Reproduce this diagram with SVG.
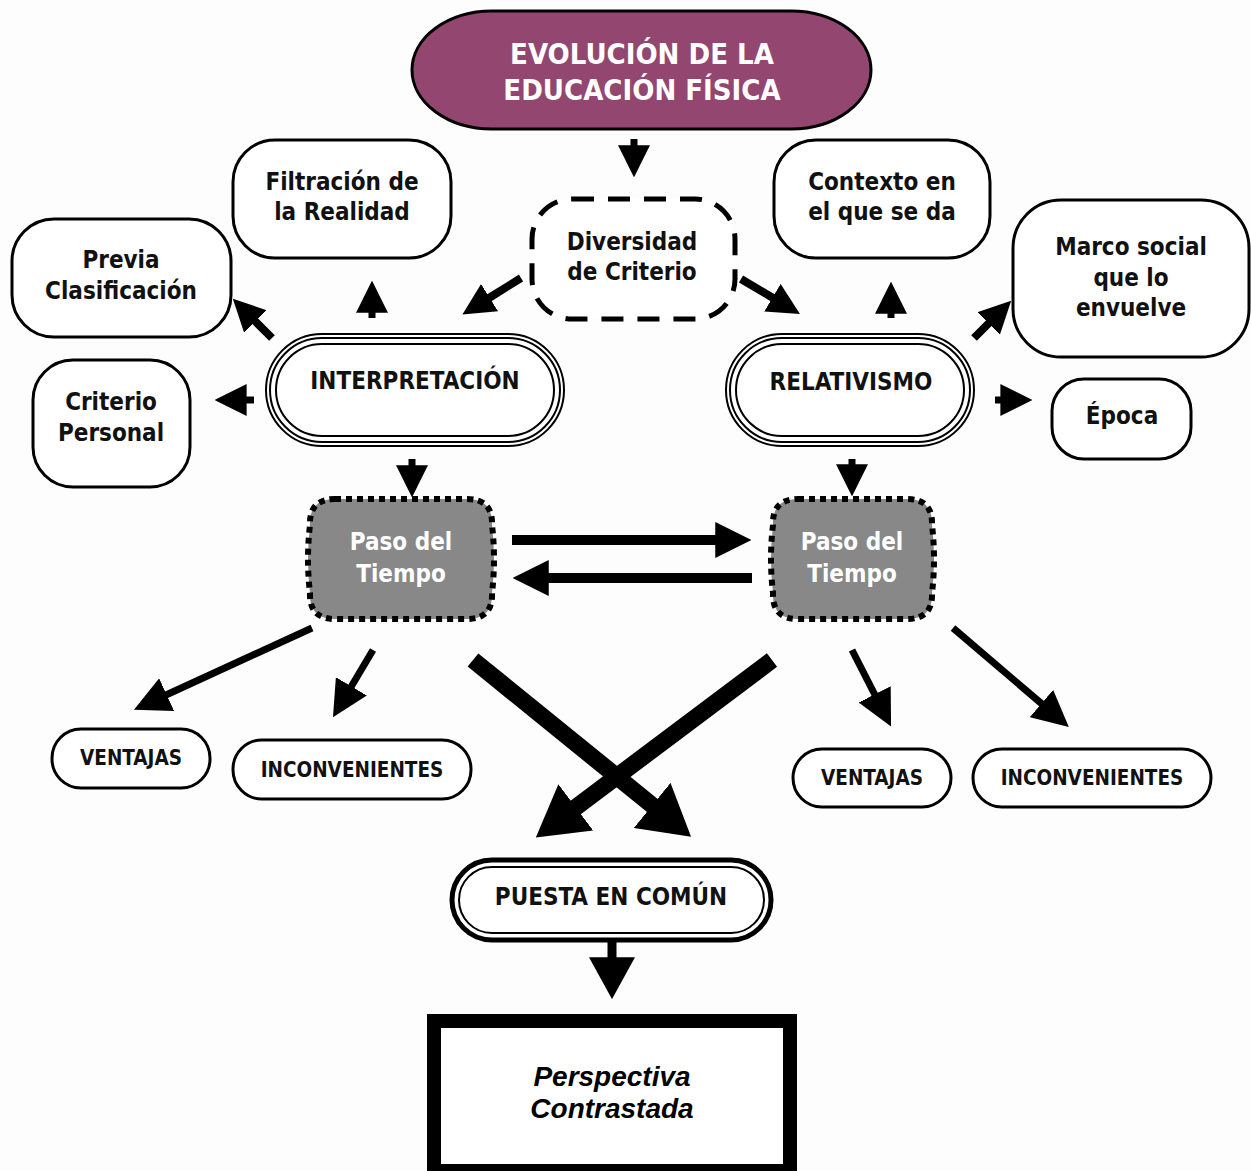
<svg xmlns="http://www.w3.org/2000/svg" width="1251" height="1171" viewBox="0 0 1251 1171">
  <style>
    .bg { fill: #fdfdfd; }
    .box { fill: #ffffff; stroke: #000; stroke-width: 3; }
    .thin { fill: none; stroke: #000; stroke-width: 2; }
    .lbl { font-family: "DejaVu Sans Condensed", "DejaVu Sans", sans-serif; font-stretch: condensed; font-weight: bold; font-size: 24px; fill: #111; text-anchor: middle; }
    .small { font-size: 20.5px; }
    .white { fill: #ffffff; }
    .title { font-size: 29px; }
    .persp { font-family: "Liberation Sans", Arial, sans-serif; font-style: italic; font-weight: bold; font-size: 28px; fill: #000; text-anchor: middle; }
    .conn line { stroke: #000; stroke-linecap: butt; }
  </style>
  <defs>
    <marker id="hs" viewBox="0 0 10 10" refX="0.2" refY="5" markerWidth="32" markerHeight="32" markerUnits="userSpaceOnUse" orient="auto" preserveAspectRatio="none">
      <path d="M0,0L10,5L0,10z" fill="#000"/>
    </marker>
    <marker id="hm" viewBox="0 0 10 10" refX="0.2" refY="5" markerWidth="36" markerHeight="36" markerUnits="userSpaceOnUse" orient="auto" preserveAspectRatio="none">
      <path d="M0,0L10,5L0,10z" fill="#000"/>
    </marker>
    <marker id="hl" viewBox="0 0 10 10" refX="0.2" refY="5" markerWidth="50" markerHeight="58" markerUnits="userSpaceOnUse" orient="auto" preserveAspectRatio="none">
      <path d="M0,0L10,5L0,10z" fill="#000"/>
    </marker>
    <marker id="hb" viewBox="0 0 10 10" refX="0.2" refY="5" markerWidth="42" markerHeight="46" markerUnits="userSpaceOnUse" orient="auto" preserveAspectRatio="none">
      <path d="M0,0L10,5L0,10z" fill="#000"/>
    </marker>
  </defs>

  <rect class="bg" x="0" y="0" width="1251" height="1171"/>

  <!-- connectors -->
  <g id="connectors" class="conn">
    <line x1="634" y1="139" x2="634" y2="146" stroke-width="7" marker-end="url(#hs)"/>
    <line x1="521" y1="278" x2="489" y2="298" stroke-width="8" marker-end="url(#hs)"/>
    <line x1="741" y1="279" x2="773" y2="298" stroke-width="8" marker-end="url(#hs)"/>
    <line x1="372" y1="318" x2="372" y2="312" stroke-width="7" marker-end="url(#hs)"/>
    <line x1="272" y1="338" x2="255" y2="321" stroke-width="8" marker-end="url(#hs)"/>
    <line x1="254" y1="400" x2="246" y2="400" stroke-width="7" marker-end="url(#hs)"/>
    <line x1="412" y1="459" x2="412" y2="466" stroke-width="7" marker-end="url(#hs)"/>
    <line x1="891" y1="318" x2="891" y2="313" stroke-width="7" marker-end="url(#hs)"/>
    <line x1="974" y1="338" x2="989" y2="323" stroke-width="8" marker-end="url(#hs)"/>
    <line x1="995" y1="400" x2="1001" y2="400" stroke-width="7" marker-end="url(#hs)"/>
    <line x1="852" y1="459" x2="852" y2="465" stroke-width="7" marker-end="url(#hs)"/>
    <line x1="512" y1="540" x2="716" y2="540" stroke-width="10" marker-end="url(#hm)"/>
    <line x1="752" y1="578" x2="548" y2="578" stroke-width="10" marker-end="url(#hm)"/>
    <line x1="312" y1="628" x2="166" y2="695" stroke-width="7" marker-end="url(#hm)"/>
    <line x1="373" y1="650" x2="351" y2="687" stroke-width="7" marker-end="url(#hm)"/>
    <line x1="473" y1="660" x2="653" y2="806" stroke-width="17" marker-end="url(#hl)"/>
    <line x1="772" y1="660" x2="575" y2="808" stroke-width="17" marker-end="url(#hl)"/>
    <line x1="852" y1="650" x2="875" y2="695" stroke-width="7" marker-end="url(#hm)"/>
    <line x1="953" y1="628" x2="1042" y2="704" stroke-width="7" marker-end="url(#hm)"/>
    <line x1="612" y1="941" x2="612" y2="958" stroke-width="9" marker-end="url(#hb)"/>
  </g>

  <!-- title -->
  <g id="n-title">
    <rect x="412" y="11" width="459" height="118" rx="80" ry="59" fill="#924670" stroke="#000" stroke-width="3"/>
    <text class="lbl title white" x="642" y="64">EVOLUCIÓN DE LA</text>
    <text class="lbl title white" x="642" y="100">EDUCACIÓN FÍSICA</text>
  </g>

  <g id="n-diversidad">
    <rect x="532" y="199" width="203" height="120" rx="40" fill="#fff" stroke="#000" stroke-width="5" stroke-dasharray="22 14"/>
    <text class="lbl" x="632" y="250">Diversidad</text>
    <text class="lbl" x="632" y="280">de Criterio</text>
  </g>

  <g id="n-filtracion">
    <rect class="box" x="233" y="140" width="218" height="118" rx="42"/>
    <text class="lbl" x="342" y="190">Filtración de</text>
    <text class="lbl" x="342" y="220">la Realidad</text>
  </g>

  <g id="n-contexto">
    <rect class="box" x="774" y="140" width="216" height="118" rx="42"/>
    <text class="lbl" x="882" y="190">Contexto en</text>
    <text class="lbl" x="882" y="220">el que se da</text>
  </g>

  <g id="n-previa">
    <rect class="box" x="12" y="219" width="219" height="118" rx="42"/>
    <text class="lbl" x="121" y="268">Previa</text>
    <text class="lbl" x="121" y="299">Clasificación</text>
  </g>

  <g id="n-marco">
    <rect class="box" x="1013" y="200" width="236" height="157" rx="48"/>
    <text class="lbl" x="1131" y="255">Marco social</text>
    <text class="lbl" x="1131" y="286">que lo</text>
    <text class="lbl" x="1131" y="316">envuelve</text>
  </g>

  <g id="n-criterio">
    <rect class="box" x="33" y="360" width="157" height="127" rx="40"/>
    <text class="lbl" x="111" y="410">Criterio</text>
    <text class="lbl" x="111" y="441">Personal</text>
  </g>

  <g id="n-epoca">
    <rect class="box" x="1052" y="379" width="139" height="80" rx="32"/>
    <text class="lbl" x="1122" y="424">Época</text>
  </g>

  <g id="n-interpretacion">
    <rect x="266" y="334" width="298" height="112" rx="56" fill="#fff" stroke="#000" stroke-width="2"/>
    <rect class="thin" x="270" y="338" width="290" height="104" rx="52"/>
    <rect class="thin" x="276" y="344" width="278" height="92" rx="46" stroke-width="2.5"/>
    <text class="lbl" x="415" y="389">INTERPRETACIÓN</text>
  </g>

  <g id="n-relativismo">
    <rect x="726" y="334" width="248" height="112" rx="56" fill="#fff" stroke="#000" stroke-width="2"/>
    <rect class="thin" x="730" y="338" width="240" height="104" rx="52"/>
    <rect class="thin" x="736" y="344" width="228" height="92" rx="46" stroke-width="2.5"/>
    <text class="lbl" x="851" y="390">RELATIVISMO</text>
  </g>

  <g id="n-paso-izq">
    <path d="M335,499 H467 Q493,499 492,525 Q496,559 492,593 Q493,619 467,619 H335 Q309,619 310,593 Q306,559 310,525 Q309,499 335,499 Z" fill="#888" stroke="#000" stroke-width="6" stroke-dasharray="6 5"/>
    <text class="lbl white" x="401" y="550">Paso del</text>
    <text class="lbl white" x="401" y="582">Tiempo</text>
  </g>

  <g id="n-paso-der">
    <path d="M798,499 H907 Q933,499 932,525 Q936,559 932,593 Q933,619 907,619 H798 Q772,619 773,593 Q769,559 773,525 Q772,499 798,499 Z" fill="#888" stroke="#000" stroke-width="6" stroke-dasharray="6 5"/>
    <text class="lbl white" x="852" y="550">Paso del</text>
    <text class="lbl white" x="852" y="582">Tiempo</text>
  </g>

  <g id="n-ventajas-izq">
    <rect class="box" x="52" y="729" width="158" height="59" rx="29"/>
    <text class="lbl small" x="131" y="765">VENTAJAS</text>
  </g>

  <g id="n-inconv-izq">
    <rect class="box" x="233" y="740" width="238" height="59" rx="29"/>
    <text class="lbl small" x="352" y="777">INCONVENIENTES</text>
  </g>

  <g id="n-ventajas-der">
    <rect class="box" x="793" y="749" width="158" height="58" rx="29"/>
    <text class="lbl small" x="872" y="785">VENTAJAS</text>
  </g>

  <g id="n-inconv-der">
    <rect class="box" x="973" y="749" width="238" height="58" rx="29"/>
    <text class="lbl small" x="1092" y="785">INCONVENIENTES</text>
  </g>

  <g id="n-puesta">
    <rect x="452" y="860" width="319" height="80" rx="40" fill="#fff" stroke="#000" stroke-width="5"/>
    <rect class="thin" x="459" y="867" width="305" height="66" rx="33"/>
    <text class="lbl" x="611" y="905">PUESTA EN COMÚN</text>
  </g>

  <g id="n-perspectiva">
    <rect x="434" y="1021" width="356" height="150" fill="#fff" stroke="#000" stroke-width="14"/>
    <text class="persp" x="612" y="1086">Perspectiva</text>
    <text class="persp" x="612" y="1118">Contrastada</text>
  </g>
</svg>
